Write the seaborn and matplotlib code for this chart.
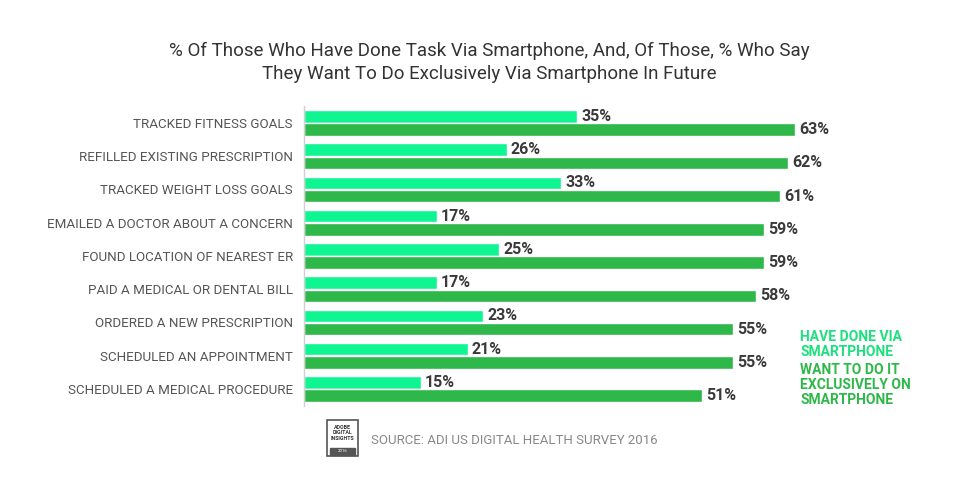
import pandas as pd
import matplotlib.pyplot as plt
import matplotlib.patches as mpatches
import seaborn as sns

# Data
tasks = [
    "TRACKED FITNESS GOALS",
    "REFILLED EXISTING PRESCRIPTION",
    "TRACKED WEIGHT LOSS GOALS",
    "EMAILED A DOCTOR ABOUT A CONCERN",
    "FOUND LOCATION OF NEAREST ER",
    "PAID A MEDICAL OR DENTAL BILL",
    "ORDERED A NEW PRESCRIPTION",
    "SCHEDULED AN APPOINTMENT",
    "SCHEDULED A MEDICAL PROCEDURE",
]
done_via_phone = [35, 26, 33, 17, 25, 17, 23, 21, 15]
want_exclusive = [63, 62, 61, 59, 59, 58, 55, 55, 51]
series_names = ["HAVE DONE VIA SMARTPHONE", "WANT TO DO IT EXCLUSIVELY ON SMARTPHONE"]

light_green = "#0EF592"
dark_green = "#2EB84A"

df = pd.DataFrame({
    "Task": tasks * 2,
    "Pct": done_via_phone + want_exclusive,
    "Series": [series_names[0]] * len(tasks) + [series_names[1]] * len(tasks),
})

sns.set_style("white")
plt.rcParams["font.family"] = ["Roboto", "DejaVu Sans"]

fig = plt.figure(figsize=(9.75, 4.88), dpi=100)
ax = fig.add_axes([0.3118, 0.169, 0.52, 0.613])

sns.barplot(data=df, y="Task", x="Pct", hue="Series", order=tasks,
            hue_order=series_names, palette=[light_green, dark_green],
            saturation=1, orient="h", width=0.8, gap=0.06, legend=False, ax=ax)

ax.set_xlim(0, 65)
ax.set_ylim(8.5, -0.5)
ax.set_xlabel("")
ax.set_ylabel("")
ax.set_xticks([])
ax.tick_params(axis="y", length=0, pad=8, labelsize=9.6, labelcolor="#555555")
for s in ["top", "right", "bottom"]:
    ax.spines[s].set_visible(False)
ax.spines["left"].set_color("#d0d0d0")
ax.spines["left"].set_linewidth(1)

# value labels
for container in ax.containers:
    ax.bar_label(container, fmt="%d%%", padding=3, fontsize=11.5,
                 fontweight="bold", color="#3a3a3a", clip_on=False)

fig.text(0.502, 0.872, "% Of Those Who Have Done Task Via Smartphone, And, Of Those, % Who Say\n"
         "They Want To Do Exclusively Via Smartphone In Future",
         ha="center", va="center", fontsize=13.5, color="#333333", linespacing=1.3)

# legend as coloured text
fig.text(0.821, 0.264, "HAVE DONE VIA\nSMARTPHONE", color="#1DE07E",
         fontsize=10, fontweight="bold", va="bottom", linespacing=1.1)
fig.text(0.821, 0.257, "WANT TO DO IT\nEXCLUSIVELY ON\nSMARTPHONE", color=dark_green,
         fontsize=10, fontweight="bold", va="top", linespacing=1.1)

# source badge
fig.patches.append(mpatches.Rectangle((0.335, 0.065), 0.032, 0.075, transform=fig.transFigure,
                                      fill=False, edgecolor="#555555", linewidth=1.2))
fig.patches.append(mpatches.Rectangle((0.338, 0.068), 0.026, 0.014, transform=fig.transFigure,
                                      color="#555555"))
fig.text(0.351, 0.113, "ADOBE\nDIGITAL\nINSIGHTS", ha="center", va="center",
         fontsize=3.8, fontweight="bold", color="#333333", linespacing=1.1)
fig.text(0.351, 0.075, "2016", ha="center", va="center", fontsize=3.2, color="white")
fig.text(0.381, 0.098, "SOURCE: ADI US DIGITAL HEALTH SURVEY 2016", ha="left", va="center",
         fontsize=9.5, color="#888888")

fig.savefig("out.png", dpi=100)
